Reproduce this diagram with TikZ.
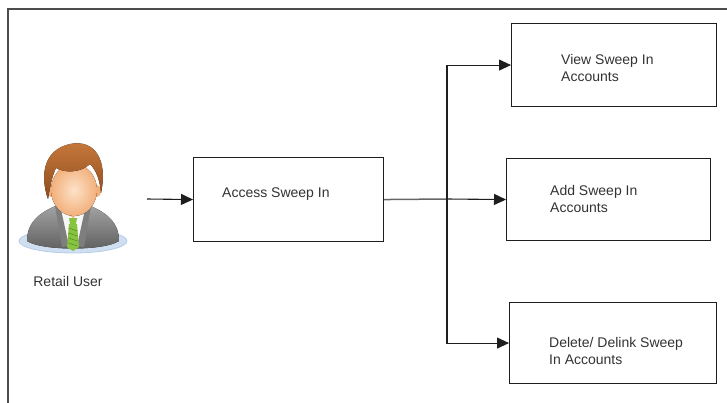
\documentclass[tikz,border=0pt]{standalone}
\usepackage{fontspec}
\setmainfont{Liberation Sans}
\usetikzlibrary{arrows.meta}

\definecolor{inkline}{HTML}{1E1E1E}
\definecolor{inktext}{HTML}{333333}
\definecolor{shadowblue}{HTML}{CFDFF1}
\definecolor{shadowrim}{HTML}{B6CCE6}
\definecolor{skinlight}{HTML}{FDE2C8}
\definecolor{skindark}{HTML}{F2B07C}
\definecolor{hairlight}{HTML}{C97A3C}
\definecolor{hairdark}{HTML}{8E4C1E}
\definecolor{suitlight}{HTML}{A3A3A3}
\definecolor{suitdark}{HTML}{5E5E5E}
\definecolor{tiegreen}{HTML}{86C43F}

\begin{document}
\begin{tikzpicture}[x=1pt,y=-1pt,
  box/.style={draw=inkline, line width=1.1pt, fill=white, anchor=north west, inner sep=0pt},
  lbl/.style={font=\fontsize{14}{17}\selectfont, text=inktext, align=left, inner sep=0pt, anchor=west},
  conn/.style={draw=inkline, line width=1.1pt},
  arr/.style={conn, -{Triangle[length=12pt,width=11pt]}},
]
\useasboundingbox (0,0) rectangle (727,402);

% outer frame (runs off the right and bottom edges)
\draw[black!70, line width=1.4pt] (8,412) -- (8,9) -- (740,9);

% process boxes
\node[box, minimum width=190, minimum height=84] (access) at (193,157) {};
\node[box, minimum width=205, minimum height=83] (view)   at (511,23)  {};
\node[box, minimum width=204, minimum height=82] (add)    at (506,158) {};
\node[box, minimum width=207, minimum height=81] (delete) at (509,302) {};

% box texts
\node[lbl] (accesstxt) at (222,194)   {Access Sweep In};
\node[lbl] (viewtxt)   at (561,67.5)  {View Sweep In\\Accounts};
\node[lbl] (addtxt)    at (550,198.5) {Add Sweep In\\Accounts};
\node[lbl] (deltxt)    at (549,351)   {Delete/ Delink Sweep\\In Accounts};

% user icon
\begin{scope}
  % floor shadow
  \fill[shadowblue, draw=shadowrim, line width=0.8pt] (73,241) ellipse [x radius=54, y radius=12];
  % suit
  \fill[top color=suitlight, bottom color=suitdark]
    (27,241) .. controls (27,222) and (40,212) .. (58,205) -- (88,205)
    .. controls (106,212) and (119,222) .. (119,241)
    .. controls (104,251) and (42,251) .. (27,241) -- cycle;
  % shirt
  \fill[white!94!gray] (57,205) -- (89,205) -- (82,238) -- (73,250) -- (64,238) -- cycle;
  % lapels
  \fill[suitdark!80] (55,206) -- (60,205) -- (69,246) -- (62,247) -- cycle;
  \fill[suitdark!80] (91,206) -- (86,205) -- (77,246) -- (84,247) -- cycle;
  % tie
  \fill[tiegreen] (69,218) -- (77,218) -- (76,224) -- (70,224) -- cycle;
  \fill[tiegreen] (69,224) -- (77,224) -- (79,247) -- (73,251) -- (67,247) -- cycle;
  \foreach \yy in {228,233,238,243}
    \draw[tiegreen!70!black, line width=0.6pt] (68.5,\yy) -- (77.5,\yy+3);
  % neck
  \fill[skindark] (64,196) -- (82,196) -- (82,210) -- (73,218) -- (64,210) -- cycle;
  % ears
  \fill[skindark] (51,191) ellipse [x radius=4, y radius=6];
  \fill[skindark] (97,191) ellipse [x radius=4, y radius=6];
  % face
  \fill[inner color=skinlight, outer color=skindark] (74,190) ellipse [x radius=23, y radius=26];
  % hair
  \fill[top color=hairlight, bottom color=hairdark]
    (48,199) .. controls (40,176) and (43,150) .. (70,144)
    .. controls (95,139) and (108,160) .. (101,193)
    .. controls (100,180) and (96,170) .. (90,164)
    .. controls (81,173) and (64,173) .. (56,168)
    .. controls (52,176) and (50,187) .. (48,199) -- cycle;
\end{scope}
\node[font=\fontsize{14}{17}\selectfont, text=inktext, inner sep=0pt] (user) at (68,281) {Retail User};

% connectors
\coordinate (userout) at (147,199);
\coordinate (split) at (447,199);
\draw[arr] (userout) -- (access.west);
\draw[black!60, line width=1.5pt] (access.east) -- (split);
\draw[arr] (split) |- (view.west);
\draw[arr] (split) -- (add.west);
\draw[arr] (split) |- (delete.west);
\end{tikzpicture}
\end{document}
